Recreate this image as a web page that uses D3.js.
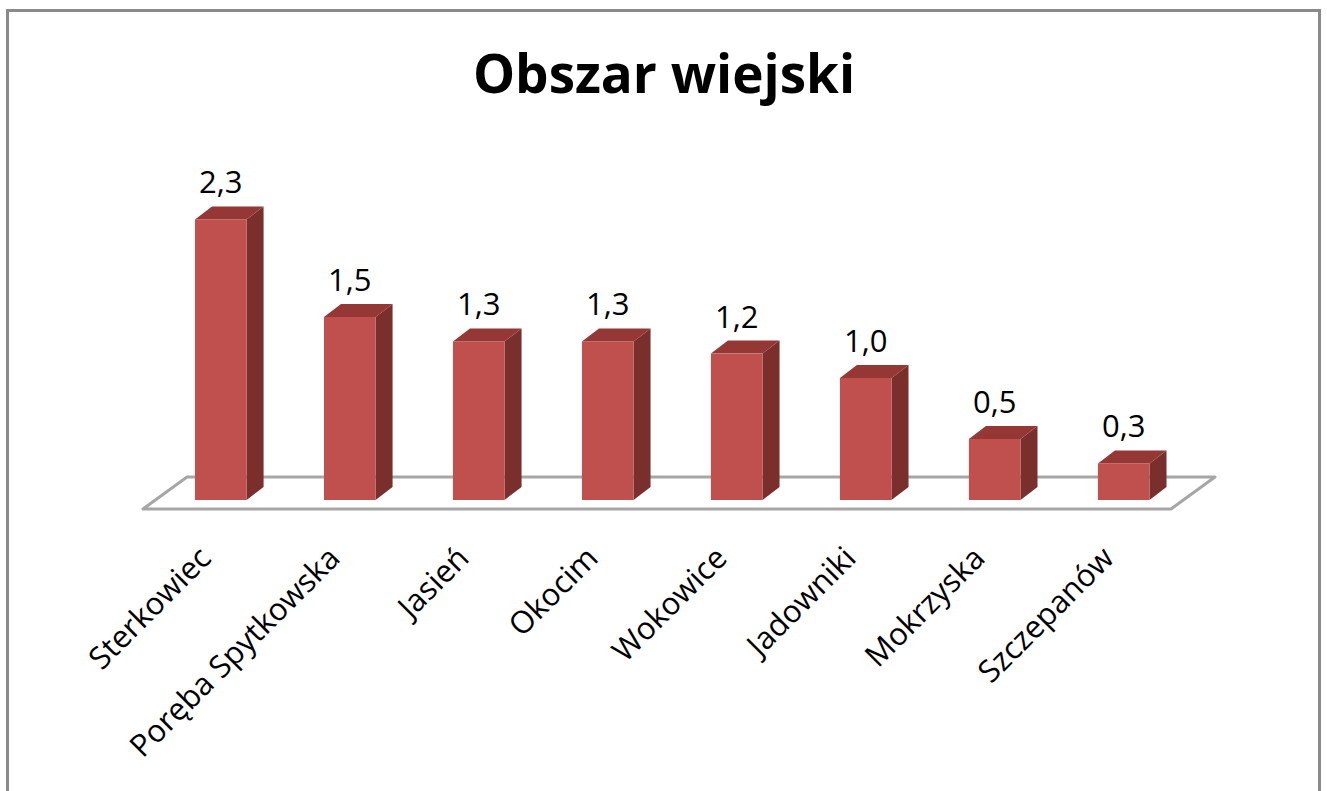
<!DOCTYPE html>
<html>
<head>
<meta charset="utf-8">
<script src="https://cdn.jsdelivr.net/npm/d3@7"></script>
<style>
  body { margin: 0; background: #fff; }
  svg text { font-family: "Open Sans", sans-serif; fill: #000; }
</style>
</head>
<body>
<div id="chart"></div>
<script>
// data
const categories = ['Sterkowiec', 'Poręba Spytkowska', 'Jasień', 'Okocim', 'Wokowice', 'Jadowniki', 'Mokrzyska', 'Szczepanów'];
const values = [2.3, 1.5, 1.3, 1.3, 1.2, 1.0, 0.5, 0.3];
const chartTitle = 'Obszar wiejski';

const width = 1327, height = 791;
const base = 500;          // front bottom of bars
const depth = {dx: 17, dy: -13};      // bar depth offset
const floorDepth = {dx: 44, dy: -32}; // floor depth offset

const svg = d3.select('#chart').append('svg')
    .attr('width', width)
    .attr('height', height);

// outer frame
svg.append('rect')
    .attr('x', 7.5).attr('y', 10.5)
    .attr('width', 1312).attr('height', 800)
    .attr('fill', '#fff')
    .attr('stroke', '#8a8a8a')
    .attr('stroke-width', 3);

svg.append('text')
    .attr('x', 664).attr('y', 93)
    .attr('text-anchor', 'middle')
    .attr('font-size', 53)
    .attr('font-weight', 'bold')
    .text(chartTitle);

const x = d3.scaleBand()
    .domain(categories)
    .range([130.5, 1214])
    .paddingInner(0.6)
    .paddingOuter(0.5);

const y = d3.scaleLinear()
    .domain([0, 2.5])
    .range([base, base - 305]);

const fmt = d3.formatLocale({decimal: ',', thousands: ' ', grouping: [3], currency: ['', '']}).format('.1f');

// floor
const fl = x.range()[0] + 12.5, fr = x.range()[1] - 43, ff = base + 9;
svg.append('path')
    .attr('d', `M${fl},${ff}L${fr},${ff}L${fr + floorDepth.dx},${ff + floorDepth.dy}L${fl + floorDepth.dx},${ff + floorDepth.dy}Z`)
    .attr('fill', '#fff')
    .attr('stroke', '#a6a6a6')
    .attr('stroke-width', 3)
    .attr('stroke-linejoin', 'round');

const bars = svg.append('g').selectAll('g')
    .data(categories.map((c, i) => ({cat: c, val: values[i]})))
    .join('g');

const bw = x.bandwidth();

// side face
bars.append('path')
    .attr('d', d => {
        const x1 = x(d.cat) + bw, yt = y(d.val);
        return `M${x1},${base}L${x1},${yt}L${x1 + depth.dx},${yt + depth.dy}L${x1 + depth.dx},${base + depth.dy}Z`;
    })
    .attr('fill', '#7b2f2d');

// top face
bars.append('path')
    .attr('d', d => {
        const x0 = x(d.cat), yt = y(d.val);
        return `M${x0},${yt}L${x0 + bw},${yt}L${x0 + bw + depth.dx},${yt + depth.dy}L${x0 + depth.dx},${yt + depth.dy}Z`;
    })
    .attr('fill', '#943735');

// front face
bars.append('rect')
    .attr('x', d => x(d.cat))
    .attr('y', d => y(d.val))
    .attr('width', bw)
    .attr('height', d => base - y(d.val))
    .attr('fill', '#c0504d');

// value labels
bars.append('text')
    .attr('x', d => x(d.cat) + bw / 2)
    .attr('y', d => y(d.val) - 26)
    .attr('text-anchor', 'middle')
    .attr('font-size', 31)
    .text(d => fmt(d.val));

// category labels
svg.append('g').selectAll('text')
    .data(categories)
    .join('text')
    .attr('text-anchor', 'end')
    .attr('font-size', 31)
    .attr('transform', d => `translate(${x(d) + bw / 2 - 8},560) rotate(-45)`)
    .text(d => d);
</script>
</body>
</html>
